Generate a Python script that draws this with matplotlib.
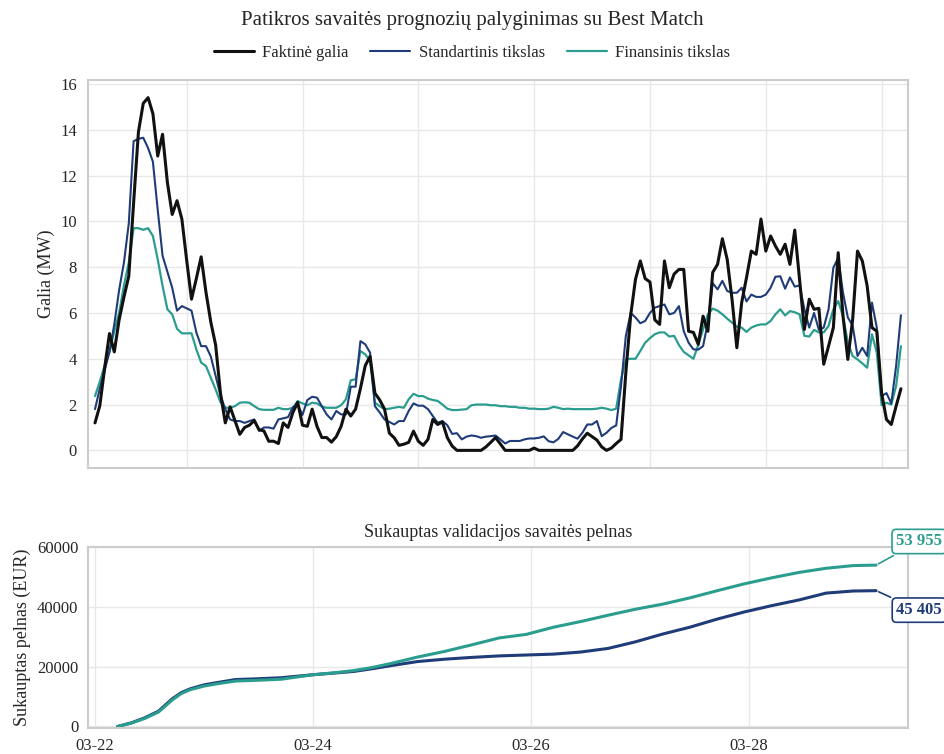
import numpy as np
import pandas as pd
import matplotlib
matplotlib.use("Agg")
import matplotlib.pyplot as plt
import matplotlib.dates as mdates
import seaborn as sns

sns.set_theme(style="whitegrid")
plt.rcParams['font.family'] = ['Liberation Serif', 'DejaVu Serif']
plt.rcParams['axes.edgecolor'] = '#cccccc'
plt.rcParams['axes.linewidth'] = 1.5
plt.rcParams['grid.color'] = '#e8e8e8'

# --- hourly data for the validation week (03-22 05:00 .. 03-29 04:00) ---
start = pd.Timestamp("2025-03-22 05:00")
hours = pd.date_range(start, periods=168, freq="h")

actual_mw = [
    1.2, 1.95, 3.6, 5.1, 4.3, 5.7, 6.7, 7.6, 10.8, 13.9, 15.15, 15.4,
    14.7, 12.85, 13.8, 11.7, 10.3, 10.9, 10.1, 8.3, 6.6, 7.5, 8.45, 6.9,
    5.6, 4.6, 2.5, 1.2, 1.9, 1.3, 0.7, 1.0, 1.1, 1.3, 0.9, 0.85,
    0.4, 0.4, 0.3, 1.2, 1.0, 1.65, 2.1, 1.1, 1.05, 1.8, 1.05, 0.56,
    0.56, 0.36, 0.6, 1.05, 1.8, 1.5, 1.8, 2.7, 3.7, 4.1, 2.5, 2.2,
    1.8, 0.75, 0.55, 0.22, 0.27, 0.35, 0.84, 0.4, 0.22, 0.48, 1.35, 1.13,
    1.24, 0.56, 0.19, 0.0, 0.0, 0.0, 0.0, 0.0, 0.0, 0.15, 0.35, 0.56,
    0.28, 0.0, 0.0, 0.0, 0.0, 0.0, 0.0, 0.1, 0.0, 0.0, 0.0, 0.0,
    0.0, 0.0, 0.0, 0.0, 0.2, 0.5, 0.75, 0.6, 0.45, 0.15, 0.0, 0.1,
    0.3, 0.48, 3.4, 5.9, 7.47, 8.27, 7.5, 7.35, 5.7, 5.5, 8.27, 7.1,
    7.7, 7.9, 7.9, 5.2, 5.15, 4.63, 5.86, 5.2, 7.77, 8.12, 9.24, 8.34,
    6.6, 4.48, 6.45, 7.54, 8.7, 8.56, 10.1, 8.7, 9.36, 8.92, 8.56, 9.0,
    8.12, 9.62, 7.47, 5.28, 6.6, 6.16, 6.2, 3.76, 4.55, 5.36, 8.63, 5.86,
    3.97, 5.72, 8.7, 8.27, 7.18, 5.36, 5.2, 2.5, 1.35, 1.13, 1.93, 2.69,
]

standard_mw = [
    1.8, 2.7, 3.5, 4.3, 5.5, 7.0, 8.2, 9.9, 13.5, 13.6, 13.65, 13.2,
    12.6, 10.5, 8.5, 7.8, 7.1, 6.1, 6.3, 6.2, 6.1, 5.15, 4.55, 4.55,
    4.1, 3.25, 2.4, 1.8, 1.35, 1.28, 1.28, 1.2, 1.28, 1.35, 0.85, 1.0,
    1.0, 0.95, 1.35, 1.4, 1.45, 1.88, 2.0, 1.55, 2.2, 2.34, 2.3, 1.93,
    1.57, 1.35, 1.72, 1.57, 1.57, 2.78, 2.78, 4.77, 4.63, 4.27, 1.93, 1.65,
    1.35, 1.24, 1.13, 1.28, 1.28, 1.72, 2.05, 1.95, 1.95, 1.8, 1.5, 1.21,
    1.28, 1.1, 0.72, 0.75, 0.48, 0.6, 0.65, 0.62, 0.55, 0.6, 0.62, 0.65,
    0.48, 0.3, 0.41, 0.41, 0.41, 0.48, 0.52, 0.52, 0.55, 0.61, 0.4, 0.35,
    0.5, 0.8, 0.7, 0.6, 0.51, 0.77, 1.13, 1.13, 1.28, 0.62, 0.77, 0.98,
    1.09, 2.81, 5.0, 6.0, 5.8, 5.55, 5.65, 6.0, 6.23, 6.3, 6.37, 5.94,
    6.0, 6.3, 5.2, 4.7, 4.41, 4.4, 4.55, 5.6, 7.3, 7.03, 7.4, 6.96,
    6.88, 6.88, 7.1, 6.5, 6.8, 6.7, 6.7, 6.8, 7.1, 7.58, 7.6, 7.06,
    7.55, 7.15, 7.2, 6.16, 5.36, 6.0, 5.26, 5.36, 6.16, 7.98, 8.4, 6.88,
    5.8, 5.45, 4.12, 4.48, 4.12, 6.45, 5.36, 2.37, 2.5, 2.05, 3.68, 5.9,
]

financial_mw = [
    2.37, 3.0, 3.7, 4.3, 5.2, 6.0, 7.2, 8.2, 9.7, 9.7, 9.63, 9.7,
    9.36, 8.34, 7.18, 6.16, 5.94, 5.31, 5.11, 5.11, 5.11, 4.41, 3.83, 3.68,
    3.17, 2.66, 2.1, 1.86, 1.86, 1.93, 2.08, 2.1, 2.08, 1.93, 1.8, 1.77,
    1.77, 1.77, 1.86, 1.8, 1.8, 1.86, 2.15, 2.05, 1.97, 2.08, 2.05, 1.91,
    1.86, 1.86, 1.86, 1.97, 2.23, 3.06, 3.1, 4.34, 4.19, 3.9, 2.08, 1.93,
    1.8, 1.82, 1.86, 1.9, 1.86, 2.23, 2.47, 2.37, 2.37, 2.26, 2.2, 2.16,
    2.0, 1.82, 1.76, 1.76, 1.78, 1.8, 1.97, 2.0, 2.0, 2.0, 1.97, 1.97,
    1.93, 1.93, 1.9, 1.9, 1.86, 1.86, 1.82, 1.82, 1.8, 1.8, 1.82, 1.9,
    1.86, 1.8, 1.82, 1.8, 1.8, 1.8, 1.8, 1.8, 1.82, 1.86, 1.82, 1.76,
    1.82, 3.1, 3.97, 4.0, 4.0, 4.34, 4.7, 4.9, 5.07, 5.15, 5.15, 4.97,
    5.0, 4.6, 4.3, 4.15, 4.0, 4.6, 5.28, 5.94, 6.19, 6.1, 5.94, 5.75,
    5.58, 5.4, 5.36, 5.17, 5.36, 5.45, 5.5, 5.5, 5.65, 5.94, 6.16, 5.89,
    6.08, 6.03, 5.94, 5.0, 4.97, 5.26, 5.15, 5.15, 5.43, 6.16, 6.52, 5.86,
    4.7, 4.12, 3.97, 3.8, 3.61, 5.07, 4.27, 1.97, 2.08, 2.0, 2.81, 4.55,
]

# cumulative profit (EUR), sampled at these hour offsets
cum_idx = [0, 3, 6, 9, 12, 14, 16, 19, 22, 26, 30, 36, 43, 48, 52, 56, 60, 66,
           72, 78, 84, 90, 96, 102, 108, 114, 120, 126, 132, 138, 144, 150,
           156, 162, 167]
cum_standard = [0, 1200, 2900, 5100, 9200, 11300, 12600, 13900, 14700, 15700,
                15900, 16300, 17300, 17900, 18400, 19300, 20300, 21700, 22500,
                23100, 23600, 23900, 24200, 24900, 26100, 28300, 30900, 33200,
                35900, 38300, 40400, 42300, 44600, 45300, 45405]
cum_financial = [0, 1100, 2700, 4800, 8800, 11000, 12300, 13500, 14300, 15200,
                 15400, 15800, 17300, 18000, 18700, 19700, 21000, 23200, 25100,
                 27300, 29600, 30800, 33200, 35100, 37200, 39200, 40900, 43000,
                 45400, 47700, 49700, 51500, 52900, 53800, 53955]

BLACK = "#111111"
NAVY = "#1f3c78"
TEAL = "#2a9d8f"

fig = plt.figure(figsize=(9.44, 7.54), dpi=100)
ax1 = fig.add_axes([0.0932, 0.3793, 0.8686, 0.5146])
ax2 = fig.add_axes([0.0932, 0.0345, 0.8686, 0.2400])

# --- top panel: power forecasts ---
ax1.plot(hours, actual_mw, color=BLACK, lw=2.2, label="Faktinė galia", zorder=3)
ax1.plot(hours, standard_mw, color=NAVY, lw=1.5, label="Standartinis tikslas", zorder=2)
ax1.plot(hours, financial_mw, color=TEAL, lw=1.6, label="Finansinis tikslas", zorder=1)
ax1.margins(x=0.0087)
ax1.set_yticks(np.arange(0, 17, 2))
ax1.xaxis.set_major_locator(mdates.DayLocator())
ax1.tick_params(axis="x", labelbottom=False)
ax1.tick_params(axis="y", labelsize=12, pad=2)
ax1.set_ylabel("Galia (MW)", fontsize=13)

fig.text(0.5, 1 - 20 / 754, "Patikros savaitės prognozių palyginimas su Best Match",
         ha="center", va="center", fontsize=15)
fig.legend(*ax1.get_legend_handles_labels(), loc="center", ncol=3, frameon=False,
           bbox_to_anchor=(0.5, 1 - 53 / 754), fontsize=12, handlelength=2.4,
           handletextpad=0.5, columnspacing=1.3)

# --- bottom panel: cumulative profit ---
cum_x = hours[cum_idx]
ax2.plot(cum_x, cum_standard, color=NAVY, lw=2.2)
ax2.plot(cum_x, cum_financial, color=TEAL, lw=2.2)
ax2.set_xlim(start - pd.Timedelta(hours=6.5), hours[-1] + pd.Timedelta(hours=7))
ax2.set_ylim(-500, 60000)
ax2.set_yticks([0, 20000, 40000, 60000])
ax2.xaxis.set_major_locator(mdates.DayLocator(interval=2))
ax2.xaxis.set_major_formatter(mdates.DateFormatter("%m-%d"))
ax2.tick_params(labelsize=12, pad=1)
ax2.set_ylabel("Sukauptas pelnas (EUR)", fontsize=13)
ax2.set_title("Sukauptas validacijos savaitės pelnas", fontsize=13, pad=7)

for vals, col, dy in [(cum_financial, TEAL, 17), (cum_standard, NAVY, -14)]:
    txt = f"{vals[-1]:,}".replace(",", " ")
    ax2.annotate(txt, xy=(cum_x[-1], vals[-1]), xytext=(31, dy),
                 textcoords="offset points", ha="center", va="center",
                 fontsize=12, fontweight="bold", color=col, annotation_clip=False,
                 bbox=dict(boxstyle="round,pad=0.25", fc="white", ec=col, lw=1.2),
                 arrowprops=dict(arrowstyle="-", color=col, lw=1.2))

fig.savefig("out.png", dpi=100)
